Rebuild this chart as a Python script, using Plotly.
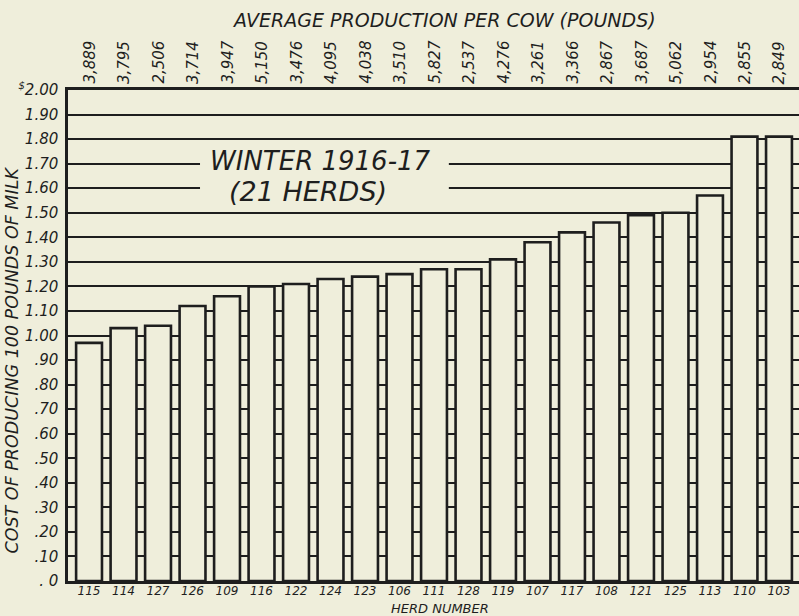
import plotly.graph_objects as go

herds = ["115", "114", "127", "126", "109", "116", "122", "124", "123", "106", "111",
         "128", "119", "107", "117", "108", "121", "125", "113", "110", "103"]
cost = [0.97, 1.03, 1.04, 1.12, 1.16, 1.20, 1.21, 1.23, 1.24, 1.25, 1.27,
        1.27, 1.31, 1.38, 1.42, 1.46, 1.49, 1.50, 1.57, 1.81, 1.81]
production = ["3,889", "3,795", "2,506", "3,714", "3,947", "5,150", "3,476", "4,095",
              "4,038", "3,510", "5,827", "2,537", "4,276", "3,261", "3,366", "2,867",
              "3,687", "5,062", "2,954", "2,855", "2,849"]
ytick_vals = [0, 0.1, 0.2, 0.3, 0.4, 0.5, 0.6, 0.7, 0.8, 0.9, 1.0,
              1.1, 1.2, 1.3, 1.4, 1.5, 1.6, 1.7, 1.8, 1.9, 2.0]
ytick_text = [". 0", ".10", ".20", ".30", ".40", ".50", ".60", ".70", ".80", ".90", "1.00",
              "1.10", "1.20", "1.30", "1.40", "1.50", "1.60", "1.70", "1.80", "1.90",
              "<sup>$</sup>2.00"]

BG = "#efeedb"
INK = "#1e1e1e"
FONT = "DejaVu Sans"

fig = go.Figure()
fig.add_trace(go.Bar(
    x=herds, y=cost, width=0.75,
    marker=dict(color=BG, line=dict(color=INK, width=2.6)),
    hoverinfo="skip",
))

annotations = []
for i, p in enumerate(production):
    annotations.append(dict(
        x=i, xref="x", y=1, yref="paper", text=p, textangle=-90,
        showarrow=False, xanchor="center", yanchor="bottom", yshift=4,
        font=dict(family=FONT, size=15, color=INK, style="italic"),
    ))
annotations += [
    dict(x=0.515, y=1.1426, xref="paper", yref="paper",
         text="AVERAGE PRODUCTION PER COW (POUNDS)", showarrow=False,
         xanchor="center", yanchor="middle",
         font=dict(family=FONT, size=19, color=INK, style="italic")),
    dict(x=0.509, y=-0.055, xref="paper", yref="paper",
         text="HERD NUMBER", showarrow=False, xanchor="center", yanchor="middle",
         font=dict(family=FONT, size=13, color=INK, style="italic")),
    dict(x=-0.076, y=0.45, xref="paper", yref="paper", textangle=-90,
         text="COST OF PRODUCING 100 POUNDS OF MILK", showarrow=False,
         xanchor="center", yanchor="middle",
         font=dict(family=FONT, size=17.5, color=INK, style="italic")),
    dict(x=0.346, y=1.712, xref="paper", yref="y",
         text="WINTER 1916-17", showarrow=False, xanchor="center", yanchor="middle",
         font=dict(family=FONT, size=26, color=INK, style="italic")),
    dict(x=0.328, y=1.588, xref="paper", yref="y",
         text="(21 HERDS)", showarrow=False, xanchor="center", yanchor="middle",
         font=dict(family=FONT, size=27, color=INK, style="italic")),
]

fig.update_layout(
    width=799, height=616,
    margin=dict(l=68, r=0, t=90, b=35),
    paper_bgcolor=BG, plot_bgcolor=BG,
    showlegend=False,
    annotations=annotations,
    shapes=[dict(type="rect", xref="paper", yref="y", x0=0.1806, x1=0.521,
                 y0=1.55, y1=1.76, fillcolor=BG, line=dict(width=0), layer="above")],
    xaxis=dict(type="category", range=[-0.61, 20.58], showgrid=False,
               showline=True, linecolor=INK, linewidth=2.5, mirror=True,
               ticks="", ticklabelstandoff=-3,
               tickfont=dict(family=FONT, size=12, color=INK, style="italic")),
    yaxis=dict(range=[0, 2.0], tickvals=ytick_vals, ticktext=ytick_text,
               showgrid=True, gridcolor=INK, gridwidth=1.6, zeroline=False,
               showline=True, linecolor=INK, linewidth=2.5,
               ticks="", ticklabelstandoff=4,
               tickfont=dict(family=FONT, size=15, color=INK, style="italic")),
)

fig.write_html("out.html", config={"displayModeBar": False},
               post_script="document.body.style.margin='0';document.body.style.background='" + BG + "';")
